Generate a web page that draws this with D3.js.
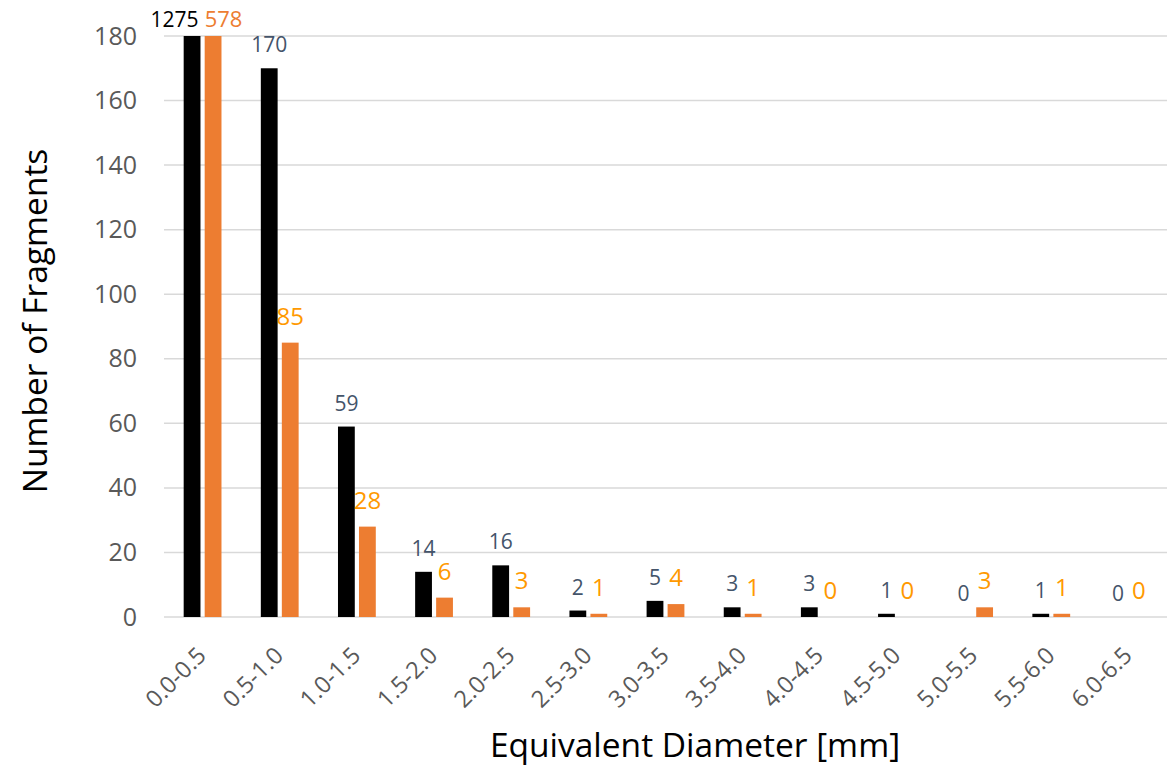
<!DOCTYPE html>
<html>
<head>
<meta charset="utf-8">
<script src="https://cdn.jsdelivr.net/npm/d3@7"></script>
<style>
  html, body { margin: 0; padding: 0; background: #fff; }
  svg { display: block; font-family: "Open Sans", "Noto Sans", sans-serif; }
</style>
</head>
<body>
<svg id="chart" width="1175" height="769"></svg>
<script>
// Size classes of equivalent diameter (mm)
const categories = ["0.0-0.5", "0.5-1.0", "1.0-1.5", "1.5-2.0", "2.0-2.5", "2.5-3.0", "3.0-3.5",
                    "3.5-4.0", "4.0-4.5", "4.5-5.0", "5.0-5.5", "5.5-6.0", "6.0-6.5"];
// Fragment counts per class for the two series
const seriesBlack  = [1275, 170, 59, 14, 16, 2, 5, 3, 3, 1, 0, 1, 0];
const seriesOrange = [578, 85, 28, 6, 3, 1, 4, 1, 0, 0, 3, 1, 0];
const yTicks = [0, 20, 40, 60, 80, 100, 120, 140, 160, 180];

const svg = d3.select("#chart");
const margin = { left: 164, right: 8, top: 36, bottom: 152 };
const W = 1175, H = 769;
const plotW = W - margin.left - margin.right;
const plotH = H - margin.top - margin.bottom;
const yMax = 180;

const g = svg.append("g").attr("transform", `translate(${margin.left},${margin.top})`);

const x = d3.scaleBand().domain(categories).range([0, plotW]).paddingInner(0.51).paddingOuter(0.255);
const sub = d3.scaleBand().domain(["black", "orange"]).range([0, x.bandwidth()]).paddingInner(0.2);
const y = d3.scaleLinear().domain([0, yMax]).range([plotH, 0]).clamp(true);

// Horizontal gridlines
g.append("g")
  .selectAll("line")
  .data(yTicks)
  .join("line")
  .attr("x1", 0).attr("x2", plotW)
  .attr("y1", d => y(d)).attr("y2", d => y(d))
  .attr("stroke", "#d9d9d9").attr("stroke-width", 1.5);

// Y axis labels
const yAxis = g.append("g").call(d3.axisLeft(y).tickValues(yTicks).tickSize(0).tickPadding(27));
yAxis.select(".domain").remove();
yAxis.selectAll("text")
  .attr("font-size", 25).attr("fill", "#595959")
  .attr("font-family", "'Open Sans', 'Noto Sans', sans-serif");

// X axis labels, rotated
const xAxis = g.append("g").attr("transform", `translate(0,${plotH})`)
  .call(d3.axisBottom(x).tickSize(0).tickPadding(0));
xAxis.select(".domain").remove();
xAxis.selectAll("text")
  .attr("font-size", 23.5).attr("fill", "#595959")
  .attr("font-family", "'Open Sans', 'Noto Sans', sans-serif")
  .attr("text-anchor", "end")
  .attr("y", 0)
  .attr("dy", null)
  .attr("transform", "translate(5,40) rotate(-45)");

const rows = categories.map((c, i) => ({ c, i, black: seriesBlack[i], orange: seriesOrange[i] }));

const groups = g.append("g").selectAll("g")
  .data(rows)
  .join("g")
  .attr("transform", d => `translate(${x(d.c)},0)`);

const colors = { black: "#000000", orange: "#ED7D31" };

groups.selectAll("rect")
  .data(d => ["black", "orange"].map(k => ({ k, v: d[k] })))
  .join("rect")
  .attr("x", d => sub(d.k))
  .attr("width", sub.bandwidth())
  .attr("y", d => y(d.v))
  .attr("height", d => plotH - y(d.v))
  .attr("fill", d => colors[d.k]);

// Value labels; labels of bars cut off at the axis maximum sit side by side
groups.selectAll("text.val")
  .data(d => ["black", "orange"].map(k => ({ k, v: d[k], over: d[k] > yMax })))
  .join("text")
  .attr("class", "val")
  .attr("x", d => {
    if (d.over) return d.k === "black" ? sub(d.k) + sub.bandwidth() - 2 : sub(d.k);
    return sub(d.k) + sub.bandwidth() / 2;
  })
  .attr("y", d => d.over ? y(d.v) - 9 : y(d.v) - (d.k === "black" ? 16 : 18))
  .attr("text-anchor", d => d.over ? (d.k === "black" ? "end" : "start") : "middle")
  .attr("font-size", d => d.over ? (d.k === "black" ? 21 : 22) : (d.k === "black" ? 21 : 24))
  .attr("fill", d => d.k === "black" ? (d.over ? "#000000" : "#44546A") : (d.over ? "#ED7D31" : "#FF9900"))
  .text(d => d.v);

// Axis titles
svg.append("text")
  .attr("x", 695).attr("y", 757)
  .attr("text-anchor", "middle")
  .attr("font-size", 33.5).attr("fill", "#000")
  .text("Equivalent Diameter [mm]");

svg.append("text")
  .attr("transform", "translate(47,321) rotate(-90)")
  .attr("text-anchor", "middle")
  .attr("font-size", 33.5).attr("fill", "#000")
  .text("Number of Fragments");
</script>
</body>
</html>
